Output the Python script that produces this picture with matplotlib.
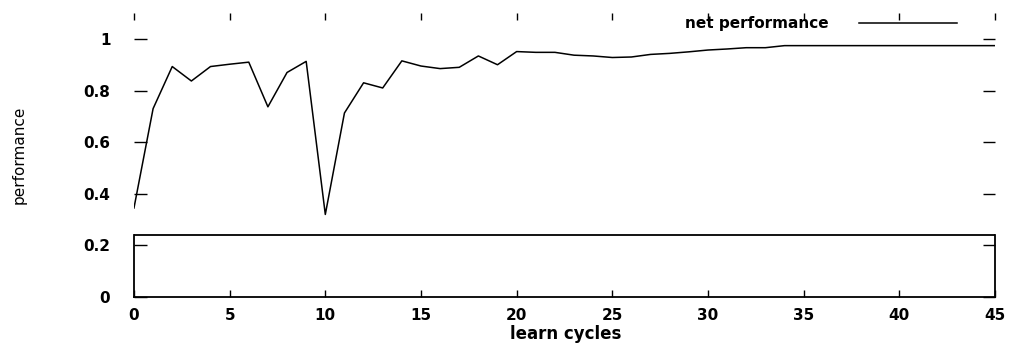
import matplotlib.pyplot as plt
import numpy as np

cycles = list(range(0, 46))
perf = [0.345, 0.73, 0.893, 0.837, 0.893, 0.902, 0.91, 0.737, 0.87, 0.913,
        0.32, 0.713, 0.83, 0.81, 0.915, 0.895, 0.885, 0.89, 0.934, 0.9,
        0.951, 0.948, 0.948, 0.937, 0.934, 0.928, 0.93, 0.94, 0.944, 0.95,
        0.957, 0.961, 0.966, 0.966, 0.974, 0.974, 0.974, 0.974, 0.974, 0.974,
        0.974, 0.974, 0.974, 0.974, 0.974, 0.974]
xticks = [0, 5, 10, 15, 20, 25, 30, 35, 40, 45]
yticks = [0, 0.2, 0.4, 0.6, 0.8, 1]
ytick_labels = ['0', '0.2', '0.4', '0.6', '0.8', '1']

fig = plt.figure(figsize=(10.18, 3.45), dpi=100)
ax = fig.add_axes([0.1316, 0.139, 0.8458, 0.823])

ax.plot(cycles, perf, color='black', lw=1.1, label='net performance')

ax.set_xlim(0, 45)
ax.set_ylim(0, 1.1)

# only the lower part of the frame is drawn
ax.spines['top'].set_visible(False)
ax.spines['left'].set_bounds(0, 0.24)
ax.spines['right'].set_bounds(0, 0.24)
for s in ['left', 'right', 'bottom']:
    ax.spines[s].set_linewidth(1.3)
ax.hlines(0.24, 0, 45, color='black', lw=1.3)

ax.set_xticks(xticks)
ax.set_xticklabels([str(v) for v in xticks])
ax.set_yticks(yticks)
ax.set_yticklabels(ytick_labels)
ax.tick_params(axis='x', direction='in', length=5, width=1, top=True,
               pad=8, labelsize=11)
ax.tick_params(axis='y', direction='in', length=9, width=1, right=True,
               pad=17, labelsize=11)
for lab in ax.get_xticklabels() + ax.get_yticklabels():
    lab.set_fontweight('bold')

ax.set_xlabel('learn cycles', fontsize=12, fontweight='bold')
ax.xaxis.set_label_coords(0.5014, -0.097)
ax.set_ylabel('performance', fontsize=11,
              family=['Liberation Sans Narrow', 'DejaVu Sans Condensed', 'DejaVu Sans'])
ax.yaxis.set_label_coords(-0.125, 0.5)

leg = ax.legend(loc='upper right', bbox_to_anchor=(0.956, 0.99), frameon=False,
                markerfirst=False, handlelength=6.4, handletextpad=2.0,
                borderpad=0, borderaxespad=0, prop={'size': 11, 'weight': 'bold'})

fig.savefig('out.png', dpi=100)
